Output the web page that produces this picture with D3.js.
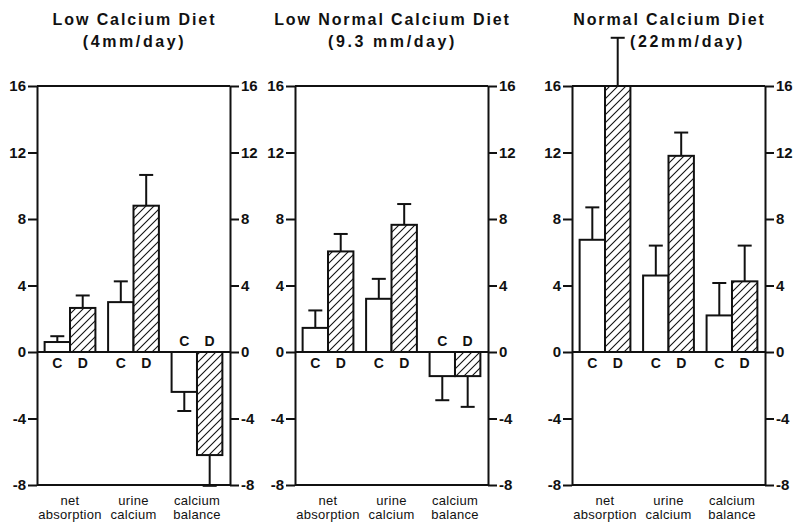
<!DOCTYPE html>
<html><head><meta charset="utf-8">
<script src="https://cdn.jsdelivr.net/npm/d3@7"></script>
<style>
html,body{margin:0;padding:0;background:#fff;}
svg{display:block;}
text{font-family:"Liberation Sans",Arial,Helvetica,sans-serif;fill:#111;}
</style></head>
<body>
<svg id="chart" width="800" height="531"></svg>
<script>
// ---- data ----
const panelTitles = ["Low Calcium Diet", "Low Normal Calcium Diet", "Normal Calcium Diet"];
const panelSubtitles = ["(4mm/day)", "(9.3 mm/day)", "(22mm/day)"];
const categories = ["net absorption", "urine calcium", "calcium balance"];
const categoryLines = [["net", "absorption"], ["urine", "calcium"], ["calcium", "balance"]];
const groups = ["C", "D"];
// control (C) means and SE, per panel, per category
const controlValues = [[0.6, 3.0, -2.4], [1.45, 3.2, -1.45], [6.75, 4.6, 2.2]];
const controlErrors = [[0.35, 1.25, 1.15], [1.05, 1.2, 1.45], [1.95, 1.8, 1.95]];
// diet (D) means and SE
const dietValues = [[2.65, 8.8, -6.2], [6.05, 7.65, -1.45], [16.0, 11.8, 4.25]];
const dietErrors = [[0.75, 1.85, 1.85], [1.05, 1.25, 1.85], [2.9, 1.4, 2.15]];
const yTicks = [-8, -4, 0, 4, 8, 12, 16];

// ---- layout ----
const panelLeft = [37, 295, 572];
const panelWidth = 193;
const subtitleShift = [0, 0, 18];

const svg = d3.select("#chart");
const defs = svg.append("defs");
defs.append("pattern")
  .attr("id", "hatch").attr("patternUnits", "userSpaceOnUse")
  .attr("width", 8).attr("height", 8)
  .call(p => {
    p.append("rect").attr("width", 8).attr("height", 8).attr("fill", "#fff");
    p.append("path").attr("d", "M0,8 L8,0 M-2,2 L2,-2 M6,10 L10,6")
      .attr("stroke", "#111").attr("stroke-width", 1.1);
  });

const y = d3.scaleLinear().domain([-8, 16]).range([485, 86]);

panelTitles.forEach((title, p) => {
  const x0 = panelLeft[p], x1 = x0 + panelWidth;
  const g = svg.append("g");
  const xBand = d3.scaleBand().domain(categories).range([x0, x1])
    .paddingInner(0.2).paddingOuter(0.12);
  const xSub = d3.scaleBand().domain(groups).range([0, xBand.bandwidth()]);

  // titles
  g.append("text").attr("x", (x0 + x1) / 2 + 1).attr("y", 25)
    .attr("text-anchor", "middle").attr("font-size", 16).attr("font-weight", "bold")
    .attr("letter-spacing", 1.9).text(title);
  g.append("text").attr("x", (x0 + x1) / 2 + 1 + subtitleShift[p]).attr("y", 47)
    .attr("text-anchor", "middle").attr("font-size", 16).attr("font-weight", "bold")
    .attr("letter-spacing", 2.6).text(panelSubtitles[p]);

  // frame lines
  const frame = g.append("g").attr("stroke", "#111").attr("stroke-width", 2);
  [16, 0, -8].forEach(v => {
    frame.append("line").attr("x1", x0).attr("x2", x1)
      .attr("y1", y(v)).attr("y2", y(v));
  });

  // axes
  const fmt = d => String(d);
  const left = g.append("g").attr("transform", `translate(${x0},0)`)
    .call(d3.axisLeft(y).tickValues(yTicks).tickSize(9).tickSizeOuter(0).tickPadding(2).tickFormat(fmt));
  const right = g.append("g").attr("transform", `translate(${x1},0)`)
    .call(d3.axisRight(y).tickValues(yTicks).tickSize(9).tickSizeOuter(0).tickPadding(2).tickFormat(fmt));
  [left, right].forEach(a => {
    a.selectAll("path,line").attr("stroke", "#111").attr("stroke-width", 2);
    a.selectAll("text").attr("font-size", 15).attr("font-weight", "bold")
      .attr("font-family", "'Liberation Sans',Arial,sans-serif").attr("fill", "#111");
  });

  // bars
  categories.forEach((cat, c) => {
    const bx = xBand(cat);
    const rows = [
      {grp: "C", v: controlValues[p][c], e: controlErrors[p][c]},
      {grp: "D", v: dietValues[p][c], e: dietErrors[p][c]}
    ];
    rows.forEach(r => {
      const xl = bx + xSub(r.grp), w = xSub.bandwidth(), xc = xl + w / 2;
      const tip = r.v + Math.sign(r.v) * r.e;
      // error bar
      g.append("line").attr("x1", xc).attr("x2", xc)
        .attr("y1", y(r.v)).attr("y2", y(tip))
        .attr("stroke", "#111").attr("stroke-width", 2);
      g.append("line").attr("x1", xc - 7).attr("x2", xc + 7)
        .attr("y1", y(tip)).attr("y2", y(tip))
        .attr("stroke", "#111").attr("stroke-width", 2);
      g.append("rect").attr("x", xl).attr("width", w)
        .attr("y", y(Math.max(0, r.v))).attr("height", Math.abs(y(r.v) - y(0)))
        .attr("fill", r.grp === "D" ? "url(#hatch)" : "#fff")
        .attr("stroke", "#111").attr("stroke-width", 2);
      // group letter
      const pos = r.v >= 0;
      g.append("text").attr("x", xc).attr("y", pos ? y(0) + 16 : y(0) - 6)
        .attr("text-anchor", "middle").attr("font-size", 14).attr("font-weight", "bold")
        .text(r.grp);
    });
    // category label
    const cx = bx + xBand.bandwidth() / 2;
    categoryLines[c].forEach((ln, i) => {
      g.append("text").attr("x", cx).attr("y", 505 + i * 14)
        .attr("text-anchor", "middle").attr("font-size", 13)
        .attr("letter-spacing", 0.3).text(ln);
    });
  });
});
</script>
</body></html>
